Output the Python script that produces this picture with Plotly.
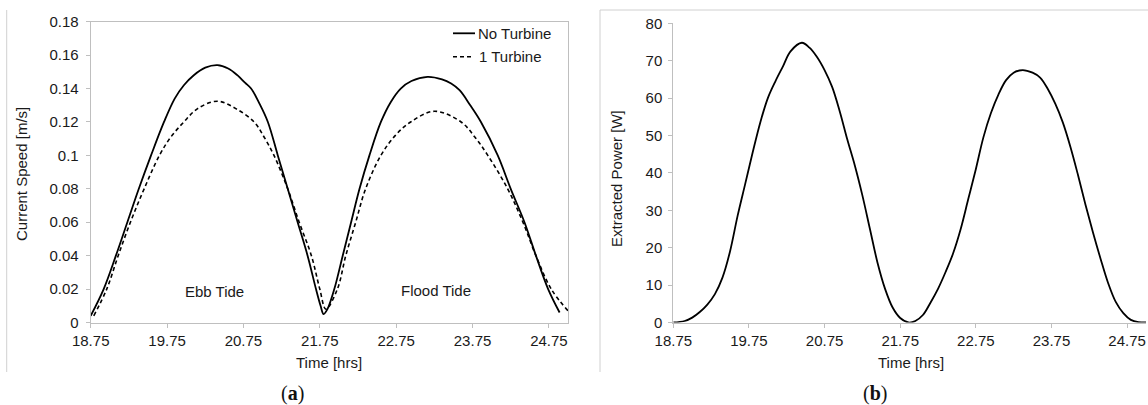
import plotly.graph_objects as go

W, H = 1148, 405

# ---------------- data ----------------
time_no_turbine = [18.75, 18.92, 19.08, 19.23, 19.38, 19.54, 19.71, 19.85, 19.97, 20.10, 20.25, 20.41,
                   20.55, 20.67, 20.77, 20.85, 20.96, 21.07, 21.20, 21.33, 21.46, 21.59, 21.70, 21.76,
                   21.80, 21.85, 21.94, 22.05, 22.16, 22.27, 22.40, 22.55, 22.68, 22.81, 22.95, 23.16,
                   23.35, 23.47, 23.58, 23.72, 23.86, 24.08, 24.25, 24.43, 24.58, 24.74, 24.89]
speed_no_turbine = [0.004, 0.020, 0.040, 0.060, 0.080, 0.100, 0.120, 0.134, 0.142, 0.148, 0.1525, 0.154,
                    0.152, 0.148, 0.1435, 0.140, 0.131, 0.120, 0.100, 0.080, 0.060, 0.040, 0.020, 0.010,
                    0.005, 0.008, 0.020, 0.040, 0.060, 0.080, 0.100, 0.120, 0.132, 0.140, 0.1445, 0.147,
                    0.1455, 0.143, 0.139, 0.130, 0.120, 0.100, 0.080, 0.060, 0.040, 0.020, 0.006]

time_one_turbine = [18.79, 18.96, 19.11, 19.27, 19.45, 19.65, 19.80, 19.97, 20.15, 20.41, 20.65, 20.89,
                    21.02, 21.15, 21.33, 21.48, 21.64, 21.75, 21.83, 21.98, 22.09, 22.22, 22.35, 22.55,
                    22.74, 22.94, 23.25, 23.60, 23.78, 23.95, 24.21, 24.41, 24.58, 24.78, 25.00]
speed_one_turbine = [0.004, 0.020, 0.040, 0.060, 0.080, 0.100, 0.111, 0.120, 0.128, 0.1324, 0.128, 0.120,
                     0.111, 0.100, 0.080, 0.060, 0.040, 0.020, 0.008, 0.020, 0.040, 0.060, 0.080, 0.100,
                     0.112, 0.120, 0.1264, 0.120, 0.111, 0.100, 0.080, 0.060, 0.040, 0.020, 0.007]

time_power = [18.75, 18.90, 19.00, 19.10, 19.20, 19.30, 19.40, 19.50, 19.60, 19.70, 19.80, 19.90, 20.00,
              20.10, 20.20, 20.30, 20.45, 20.55, 20.65, 20.75, 20.85, 20.95, 21.05, 21.15, 21.25, 21.35,
              21.45, 21.55, 21.65, 21.75, 21.86, 21.95, 22.05, 22.15, 22.25, 22.35, 22.45, 22.55, 22.65,
              22.75, 22.85, 22.95, 23.05, 23.15, 23.25, 23.37, 23.50, 23.60, 23.70, 23.80, 23.90, 24.00,
              24.10, 24.20, 24.30, 24.40, 24.50, 24.60, 24.70, 24.80, 24.90, 25.00]
power = [0.0, 0.4, 1.3, 2.8, 4.8, 7.6, 12.0, 19.0, 28.5, 37.0, 45.5, 53.5, 60.0,
         64.5, 68.5, 72.5, 74.8, 73.5, 71.0, 67.5, 63.0, 56.5, 49.0, 42.0, 34.0, 25.0,
         16.0, 9.0, 4.0, 1.2, 0.0, 0.4, 2.0, 5.3, 9.0, 13.5, 18.5, 25.0, 33.0,
         41.0, 49.5, 56.0, 61.0, 64.8, 66.8, 67.5, 66.8, 65.5, 62.5, 58.5, 53.5, 47.0,
         39.5, 31.5, 24.0, 17.0, 10.5, 5.5, 2.5, 0.7, 0.1, 0.0]

x_tick_vals = [18.75, 19.75, 20.75, 21.75, 22.75, 23.75, 24.75]
x_tick_text = ["18.75", "19.75", "20.75", "21.75", "22.75", "23.75", "24.75"]
ya_tick_vals = [0, 0.02, 0.04, 0.06, 0.08, 0.10, 0.12, 0.14, 0.16, 0.18]
ya_tick_text = ["0", "0.02", "0.04", "0.06", "0.08", "0.1", "0.12", "0.14", "0.16", "0.18"]
yb_tick_vals = [0, 10, 20, 30, 40, 50, 60, 70, 80]
yb_tick_text = ["0", "10", "20", "30", "40", "50", "60", "70", "80"]

# ---------------- helpers ----------------
def px(x):
    return x / W

def py(y):
    return 1 - y / H

FONT = "Arial, Liberation Sans, sans-serif"
TXT = "#1a1a1a"
AX = "#bfbfbf"

fig = go.Figure()
fig.add_trace(go.Scatter(x=time_no_turbine, y=speed_no_turbine, mode="lines",
                         line=dict(color="black", width=1.8, shape="spline", smoothing=1.0),
                         xaxis="x", yaxis="y", showlegend=False, name="No Turbine"))
fig.add_trace(go.Scatter(x=time_one_turbine, y=speed_one_turbine, mode="lines",
                         line=dict(color="black", width=1.6, dash="4px,3px", shape="spline", smoothing=1.0),
                         xaxis="x", yaxis="y", showlegend=False, name="1 Turbine"))
fig.add_trace(go.Scatter(x=time_power, y=power, mode="lines",
                         line=dict(color="black", width=1.8, shape="spline", smoothing=1.0),
                         xaxis="x2", yaxis="y2", showlegend=False, name="Power"))

common_x = dict(range=[18.75, 25], tickvals=x_tick_vals, ticktext=x_tick_text,
                ticks="outside", ticklen=4, tickcolor=AX, showline=True, linecolor=AX,
                linewidth=1, showgrid=False, zeroline=False, automargin=False,
                tickfont=dict(family=FONT, size=15, color=TXT))
common_y = dict(ticks="outside", ticklen=4, tickcolor=AX, showline=True, linecolor=AX,
                linewidth=1, showgrid=False, zeroline=False, automargin=False,
                tickfont=dict(family=FONT, size=15, color=TXT))

ybot = py(322.5)
fig.update_layout(
    template="none",
    width=W, height=H,
    margin=dict(l=0, r=0, t=0, b=0, pad=0),
    paper_bgcolor="white", plot_bgcolor="white",
    xaxis=dict(domain=[px(90.7), px(568)], anchor="y", mirror=True, **common_x),
    yaxis=dict(domain=[ybot, py(21.7)], anchor="x", range=[0, 0.18], mirror=True,
               tickvals=ya_tick_vals, ticktext=ya_tick_text, ticklabelstandoff=4, **common_y),
    xaxis2=dict(domain=[px(673.3), px(1146)], anchor="y2", **common_x),
    yaxis2=dict(domain=[ybot, py(23.3)], anchor="x2", range=[0, 80],
                tickvals=yb_tick_vals, ticktext=yb_tick_text, ticklabelstandoff=3, **common_y),
)

anns = []
def ann(text, x, y, size=15, angle=0, xanchor="center", family=FONT, color=TXT):
    anns.append(dict(text=text, x=px(x), y=py(y), xref="paper", yref="paper",
                     showarrow=False, textangle=angle, xanchor=xanchor, yanchor="middle",
                     font=dict(family=family, size=size, color=color)))

ann("Current Speed [m/s]", 22, 174, angle=-90)
ann("Time [hrs]", 329, 362)
ann("Extracted Power [W]", 616, 179, angle=-90)
ann("Time [hrs]", 910.6, 362)
ann("No Turbine", 476, 33.3, xanchor="left")
ann("1 Turbine", 477, 56.7, xanchor="left")
anns.append(dict(text="Ebb Tide", x=20.37, y=0.0184, xref="x", yref="y", showarrow=False,
                 font=dict(family=FONT, size=15, color=TXT)))
anns.append(dict(text="Flood Tide", x=23.27, y=0.019, xref="x", yref="y", showarrow=False,
                 font=dict(family=FONT, size=15, color=TXT)))
ann("(<b>a</b>)", 292, 393, size=20, family="Liberation Serif, serif", color="#111")
ann("(<b>b</b>)", 875, 393, size=20, family="Liberation Serif, serif", color="#111")
fig.update_layout(annotations=anns)

shapes = [
    # legend samples
    dict(type="line", xref="paper", yref="paper", x0=px(453), x1=px(475), y0=py(33.3), y1=py(33.3),
         line=dict(color="black", width=1.8)),
    dict(type="line", xref="paper", yref="paper", x0=px(453), x1=px(471), y0=py(56.7), y1=py(56.7),
         line=dict(color="black", width=1.6, dash="4px,3px")),
    # outer chart borders
    dict(type="line", xref="paper", yref="paper", x0=px(6.7), x1=px(6.7), y0=py(10), y1=py(372),
         line=dict(color="#d0d0d0", width=1)),
    dict(type="line", xref="paper", yref="paper", x0=px(600), x1=px(600), y0=py(10), y1=py(372),
         line=dict(color="#d0d0d0", width=1)),
    dict(type="line", xref="paper", yref="paper", x0=px(600), x1=1, y0=py(10), y1=py(10),
         line=dict(color="#d0d0d0", width=1)),
]
fig.update_layout(shapes=shapes)

fig.write_html("out.html")
